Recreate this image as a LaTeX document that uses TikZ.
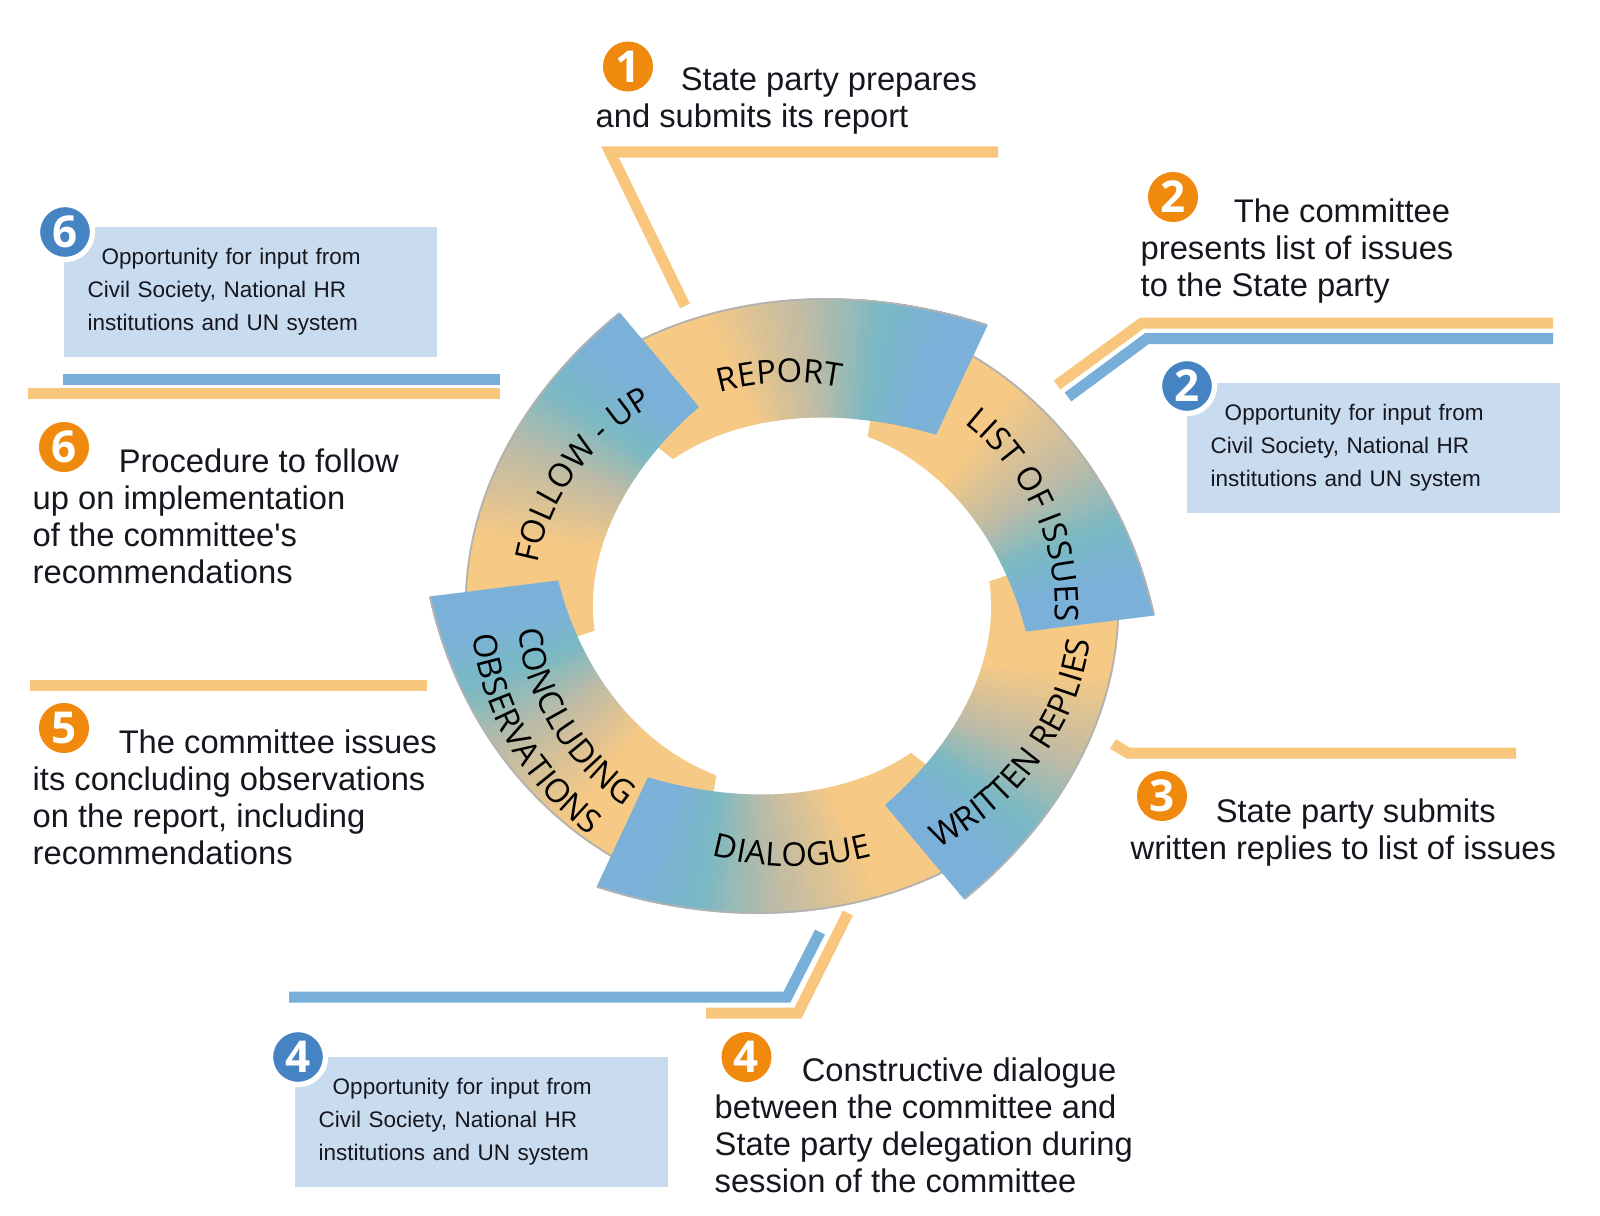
\documentclass[tikz,border=0pt]{standalone}
\usepackage{fontspec}
\setmainfont{Liberation Sans}
\newfontfamily\ringfont{Open Sans}
\usetikzlibrary{decorations.text}

\definecolor{ringorange}{HTML}{F6C985}
\definecolor{ringgray}{HTML}{BDBBA6}
\definecolor{ringteal}{HTML}{7BB9C4}
\definecolor{ringblue}{HTML}{7BB1D8}
\definecolor{leadorangecol}{HTML}{F8C67D}
\definecolor{leadbluecol}{HTML}{78AFD9}
\definecolor{boxblue}{HTML}{C9DCEF}
\definecolor{badgeorange}{HTML}{EF8A0E}
\definecolor{badgeblue}{HTML}{4683C3}
\definecolor{textdark}{HTML}{16161F}

\tikzstyle{stepbadge} = [circle, minimum size=0.5cm, inner sep=0pt, fill=badgeorange,
    text=white, font=\ringfont\bfseries\fontsize{12.5}{12.5}\selectfont]
\tikzstyle{inputbadge} = [circle, minimum size=0.55cm, inner sep=0pt, fill=badgeblue,
    draw=white, line width=1.5pt, text=white, font=\ringfont\bfseries\fontsize{12.5}{12.5}\selectfont]
\tikzstyle{inputbox} = [rectangle, anchor=north west, fill=boxblue, text width=3.25cm,
    inner xsep=0.24cm, minimum height=1.3cm, align=left, text=textdark,
    font=\fontsize{6.4}{9.5}\selectfont]
\tikzstyle{steptext} = [anchor=base west, inner sep=0pt, align=left, text=textdark,
    font=\fontsize{9.3}{10.5}\selectfont]
\tikzstyle{leadorange} = [line width=0.11cm, draw=leadorangecol]
\tikzstyle{leadblue} = [line width=0.11cm, draw=leadbluecol]
\tikzstyle{ringedge} = [draw=gray!60, line width=0.5pt]
\tikzstyle{ringlabel} = [decorate, decoration={text along path, text align=center}]

\newcommand{\ringlbl}{\ringfont\fontsize{9.3}{9.3}\selectfont}

% one ring piece: head angle, first and last slice (of 50)
\newcommand{\ringpart}[3]{%
  \foreach \i in {#2,...,#3} {
    \pgfmathsetmacro\ta{\i/50}
    \pgfmathsetmacro\tb{(\i+1)/50}
    \pgfmathsetmacro\tm{(\i+0.5)/50}
    \pgfmathtruncatemacro\pa{max(0,min(100,(0.6-\tm)*400))}
    \pgfmathtruncatemacro\pb{max(0,min(100,(0.77-\tm)*588))}
    \pgfmathtruncatemacro\pc{max(0,min(100,(0.9-\tm)*770))}
    \colorlet{slicecol}{ringorange!\pa!ringgray!\pb!ringteal!\pc!ringblue}
    \filldraw[slicecol, line width=0.5pt, line join=round]
      ({#1+2.5+74*(1-\ta)}:{326+36*\ta^3}) -- ({#1+2.5+74*(1-\tb)}:{326+36*\tb^3})
      -- ({#1-2.5+74*(1-\tb)}:{200+36*\tb^3}) -- ({#1-2.5+74*(1-\ta)}:{200+36*\ta^3}) -- cycle;
  }
  \pgfmathsetmacro\dstart{#2/50}
  \pgfmathsetmacro\dend{(#3+1)/50}
  \draw[ringedge] plot[domain=\dstart:\dend, samples=30] ({#1+2.5+74*(1-\x)}:{326+36*\x^3});
}

\begin{document}
\begin{tikzpicture}[x=0.01cm, y=-0.01cm]
\fill[white] (0,0) rectangle (1600,1215);
\useasboundingbox (0,0) rectangle (1600,1215);

% leader lines
\coordinate (l1a) at (685,306);
\coordinate (l1b) at (610,152);
\coordinate (l1c) at (998,152);
\coordinate (l2a) at (1057,385);
\coordinate (l2b) at (1142,323);
\coordinate (l2c) at (1553,323);
\coordinate (i2a) at (1068,397);
\coordinate (i2b) at (1147,338.5);
\coordinate (i2c) at (1553,338.5);
\coordinate (l3a) at (1113,744);
\coordinate (l3b) at (1128,753);
\coordinate (l3c) at (1516,753);
\coordinate (l4a) at (848,913);
\coordinate (l4b) at (798,1013);
\coordinate (l4c) at (706,1013);
\coordinate (i4a) at (820,932);
\coordinate (i4b) at (787,997);
\coordinate (i4c) at (289,997);
\coordinate (l5a) at (30,685);
\coordinate (l5b) at (427,685);
\coordinate (l6a) at (28,393.5);
\coordinate (l6b) at (500,393.5);
\coordinate (i6a) at (63,379);
\coordinate (i6b) at (500,379);

\draw[leadorange] (l1a) -- (l1b) -- (l1c);
\draw[leadorange] (l2a) -- (l2b) -- (l2c);
\draw[leadblue] (i2a) -- (i2b) -- (i2c);
\draw[leadorange] (l3a) -- (l3b) -- (l3c);
\draw[leadblue] (i4a) -- (i4b) -- (i4c);
\draw[leadorange] (l4a) -- (l4b) -- (l4c);
\draw[leadorange] (l5a) -- (l5b);
\draw[leadblue] (i6a) -- (i6b);
\draw[leadorange] (l6a) -- (l6b);

% the cycle
\begin{scope}[shift={(792,606)}, yscale=-0.92]
  \ringpart{55}{0}{49}
  \ringpart{116}{0}{49}
  \ringpart{176}{0}{49}
  \ringpart{-125}{0}{49}
  \ringpart{-64}{0}{49}
  \ringpart{-4}{0}{49}
  \ringpart{55}{36}{49}

  \path[ringlabel, decoration={text={|\ringlbl|REPORT}}] plot[domain=138:48, samples=61] (\x:243);
  \path[ringlabel, decoration={text={|\ringlbl|LIST OF ISSUES}}] plot[domain=72:-28, samples=61] (\x:263);
  \path[ringlabel, decoration={text={|\ringlbl|WRITTEN REPLIES}}] plot[domain=-88:22, samples=61] (\x:301);
  \path[ringlabel, decoration={text={|\ringlbl|DIALOGUE}}] plot[domain=-140:-40, samples=61] (\x:283);
  \path[ringlabel, decoration={text={|\ringlbl|CONCLUDING}}] plot[domain=158:258, samples=61] (\x:275);
  \path[ringlabel, decoration={text={|\ringlbl|OBSERVATIONS}}] plot[domain=157:258, samples=61] (\x:321);
  \path[ringlabel, decoration={text={|\ringlbl|FOLLOW - UP}}] plot[domain=197:97, samples=61] (\x:259);
\end{scope}

% steps (text nodes sit on the baseline of their last line)
\node (b1) [stepbadge] at (628,66.5) {1};
\node (t1) [steptext] at (595,127) {\hspace*{0.85cm}State party prepares\\and submits its report};
\node (b2) [stepbadge] at (1173,197) {2};
\node (t2) [steptext] at (1140,296) {\hspace*{0.93cm}The committee\\presents list of issues\\to the State party};
\node (b3) [stepbadge] at (1162,796) {3};
\node (t3) [steptext] at (1130,859) {\hspace*{0.85cm}State party submits\\written replies to list of issues};
\node (b4) [stepbadge] at (746.5,1057) {4};
\node (t4) [steptext] at (714,1192) {\hspace*{0.87cm}Constructive dialogue\\between the committee and\\State party delegation during\\session of the committee};
\node (b5) [stepbadge] at (64,728) {5};
\node (t5) [steptext] at (32,864) {\hspace*{0.86cm}The committee issues\\its concluding observations\\on the report, including\\recommendations};
\node (b6) [stepbadge] at (64,447) {6};
\node (t6) [steptext] at (32,583) {\hspace*{0.86cm}Procedure to follow\\up on implementation\\of the committee\textquotesingle s\\recommendations};

% input boxes
\node (box6) [inputbox] at (63,226) {\hspace*{0.14cm}Opportunity for input from\\Civil Society, National HR\\institutions and UN system};
\node (ib6) [inputbadge] at ([shift={(2,6)}]box6.north west) {6};
\node (box2) [inputbox] at (1186,382) {\hspace*{0.14cm}Opportunity for input from\\Civil Society, National HR\\institutions and UN system};
\node (ib2) [inputbadge] at ([shift={(1,4)}]box2.north west) {2};
\node (box4) [inputbox] at (294,1056) {\hspace*{0.14cm}Opportunity for input from\\Civil Society, National HR\\institutions and UN system};
\node (ib4) [inputbadge] at ([shift={(4,1)}]box4.north west) {4};
\end{tikzpicture}
\end{document}
